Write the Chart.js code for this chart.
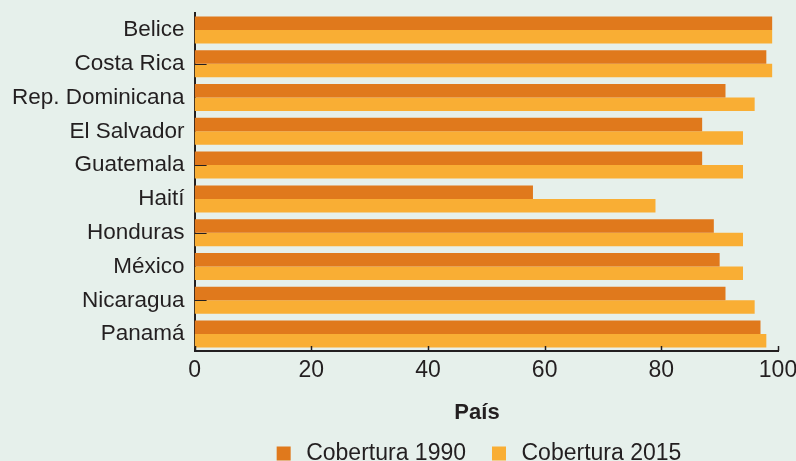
<!DOCTYPE html>
<html>
<head>
<meta charset="utf-8">
<script src="https://cdn.jsdelivr.net/npm/chart.js@4"></script>
<style>
  html, body { margin: 0; padding: 0; background: #e6f0eb; }
  #wrap { width: 796px; height: 461px; }
</style>
</head>
<body>
<div id="wrap"><canvas id="chartCobertura"></canvas></div>
<script>
// Datos: cobertura por país (%)
const paises = ['Belice', 'Costa Rica', 'Rep. Dominicana', 'El Salvador', 'Guatemala',
    'Haití', 'Honduras', 'México', 'Nicaragua', 'Panamá'];
const cobertura1990 = [99, 98, 91, 87, 87, 58, 89, 90, 91, 97];
const cobertura2015 = [99, 99, 96, 94, 94, 79, 94, 94, 96, 98];
const ticksX = [0, 20, 40, 60, 80, 100];
const marcasY = [1, 4, 6, 8]; // marcas cortas que aparecen en el eje y

const fuente = 'Liberation Sans, Arial, sans-serif';
const desplazLeyenda = 78; // la leyenda va centrada bajo el área del gráfico

// marcas cortas de los ejes hacia adentro
const marcasEje = {
    id: 'marcasEje',
    afterLayout(chart) {
        const lg = chart.legend;
        lg.left += desplazLeyenda;
        lg.right += desplazLeyenda;
    },
    afterDatasetsDraw(chart) {
        const { ctx, scales: { x, y }, chartArea } = chart;
        ctx.save();
        ctx.strokeStyle = '#231f20';
        ctx.lineWidth = 1.5;
        ticksX.forEach(v => {
            const px = Math.round(x.getPixelForValue(v)) + 0.5;
            ctx.beginPath();
            ctx.moveTo(px, chartArea.bottom);
            ctx.lineTo(px, chartArea.bottom - 5);
            ctx.stroke();
        });
        ctx.lineWidth = 1;
        marcasY.forEach(i => {
            const py = Math.round(y.getPixelForValue(i)) + 0.5;
            ctx.beginPath();
            ctx.moveTo(chartArea.left, py);
            ctx.lineTo(chartArea.left + 12, py);
            ctx.stroke();
        });
        ctx.restore();
    }
};

const ctx = document.getElementById('chartCobertura');
new Chart(ctx, {
    type: 'bar',
    data: {
        labels: paises,
        datasets: [{
            label: 'Cobertura 1990',
            data: cobertura1990,
            backgroundColor: '#e0791c',
            borderWidth: 0
        }, {
            label: 'Cobertura 2015',
            data: cobertura2015,
            backgroundColor: '#f9ae34',
            borderWidth: 0
        }]
    },
    options: {
        indexAxis: 'y',
        responsive: true,
        maintainAspectRatio: false,
        animation: false,
        layout: { padding: { top: 13, right: 0, left: 2, bottom: -14 } },
        plugins: {
            legend: {
                position: 'bottom',
                title: {
                    display: true,
                    text: 'País',
                    color: '#231f20',
                    font: { family: fuente, size: 22, weight: 'bold' },
                    padding: { top: 11, bottom: -8 }
                },
                labels: {
                    color: '#231f20',
                    usePointStyle: true,
                    pointStyle: 'rect',
                    boxWidth: 22,
                    boxHeight: 14,
                    padding: 22,
                    font: { family: fuente, size: 23 }
                }
            },
            tooltip: { enabled: false }
        },
        datasets: {
            bar: { categoryPercentage: 0.8, barPercentage: 1.0 }
        },
        scales: {
            x: {
                min: 0,
                max: 100,
                afterBuildTicks: axis => { axis.ticks = ticksX.map(v => ({ value: v })); },
                afterFit: axis => { axis.paddingRight = 18; axis.paddingLeft = 0; },
                ticks: {
                    color: '#231f20',
                    padding: 6,
                    font: { family: fuente, size: 23 }
                },
                grid: { display: false, drawTicks: false },
                border: { display: true, color: '#231f20', width: 2 }
            },
            y: {
                afterFit: axis => { axis.paddingTop = 0; axis.paddingBottom = 0; },
                ticks: {
                    color: '#231f20',
                    padding: 10,
                    font: { family: fuente, size: 22.5 }
                },
                grid: { display: false, drawTicks: false },
                border: { display: true, color: '#231f20', width: 2 }
            }
        }
    },
    plugins: [marcasEje]
});
</script>
</body>
</html>
